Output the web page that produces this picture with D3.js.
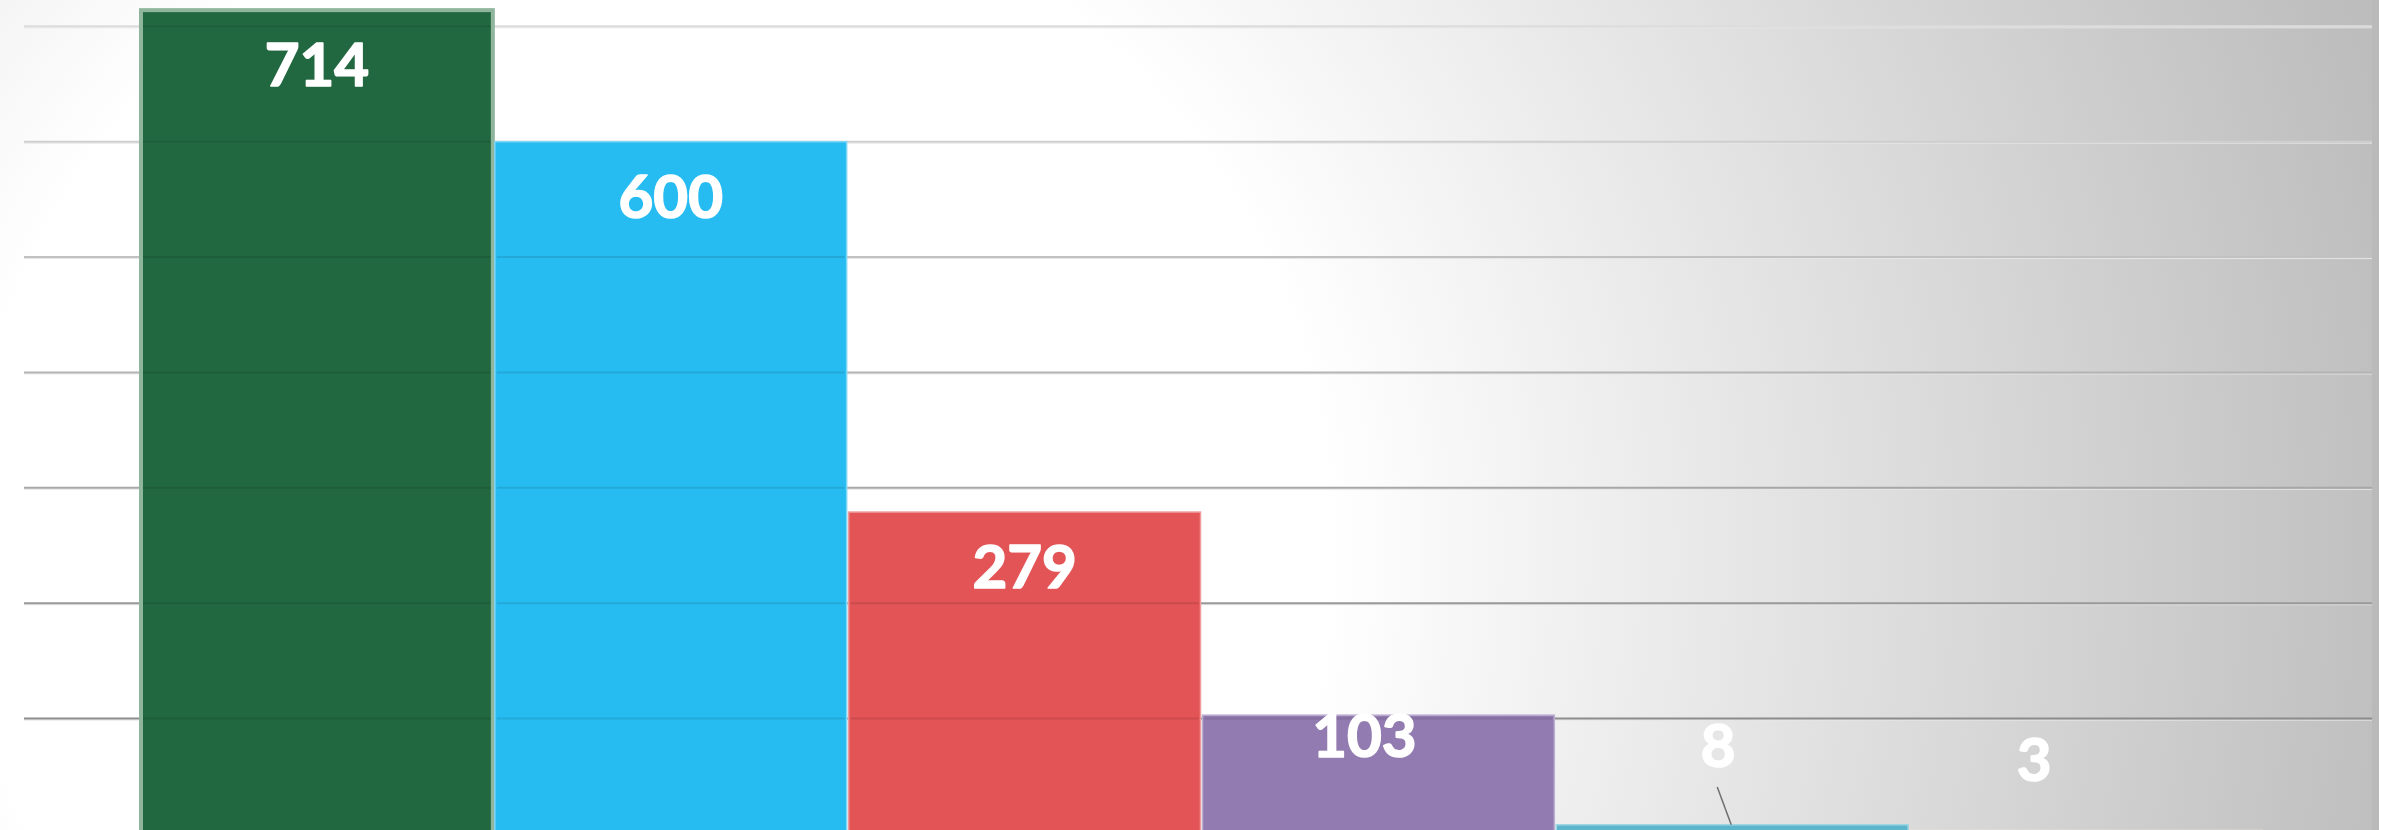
<!DOCTYPE html>
<html>
<head>
<meta charset="utf-8">
<script src="https://cdn.jsdelivr.net/npm/d3@7"></script>
<style>
body{margin:0;background:#fff;overflow:hidden}
svg{display:block}
</style>
</head>
<body>
<script>
// data (the category names are not shown in it)
const categories=["c1","c2","c3","c4","c5","c6"]
const values=[714,600,279,103,8,3]
const colors=["#216840","#27bcf1","#e35456","#927bb0","#5cb5cb","#f6d7bf"]
const borders=["#8fb59d","#7fd6f5","#ee9a9b","#bcaed0","#9fd6e4","#fbe9dc"]
const ticks=[100,200,300,400,500,600,700]

const W=2390,H=830
// label nudges where the chart had them moved by hand
const label_dx=[0,0,0,-14,-14,-52]
const label_dy=[76,76,76,42,-58,-50]

const svg=d3.select("body").append("svg")
	.attr("width",W)
	.attr("height",H)

const defs=svg.append("defs")
const bg=defs.append("radialGradient")
	.attr("id","bg")
	.attr("gradientUnits","userSpaceOnUse")
	.attr("cx",650).attr("cy",550).attr("r",1780)
bg.append("stop").attr("offset",0).attr("stop-color","#ffffff")
bg.append("stop").attr("offset",0.38).attr("stop-color","#ffffff")
bg.append("stop").attr("offset",1).attr("stop-color","#bdbdbd")

svg.append("rect")
	.attr("x",0).attr("y",0)
	.attr("width",2379).attr("height",H)
	.attr("fill","url(#bg)")
svg.append("rect")
	.attr("x",2372).attr("y",0)
	.attr("width",7).attr("height",H)
	.attr("fill","#bababa")

const x=d3.scaleBand()
	.domain(categories)
	.range([140,2263])
	.padding(0)
const y=d3.scaleLinear()
	.domain([0,700])
	.range([834,26.3])

const gridcol=d3.scaleLinear()
	.domain([700,100])
	.range(["#dcdcdc","#8c8c8c"])

const grid=svg.append("g")
grid.selectAll("line.shadow").data(ticks).enter().append("line")
	.attr("class","shadow")
	.attr("x1",24).attr("x2",2372)
	.attr("y1",d=>y(d)+1.5).attr("y2",d=>y(d)+1.5)
	.attr("stroke","#e6e6e6")
	.attr("stroke-width",1)
grid.selectAll("line.main").data(ticks).enter().append("line")
	.attr("class","main")
	.attr("x1",24).attr("x2",2372)
	.attr("y1",d=>y(d)).attr("y2",d=>y(d))
	.attr("stroke",d=>gridcol(d))
	.attr("stroke-width",2)

const bars=svg.append("g")
bars.selectAll("rect").data(values).enter().append("rect")
	.attr("x",(d,i)=>x(categories[i])+1)
	.attr("y",d=>y(d))
	.attr("width",x.bandwidth()-2)
	.attr("height",d=>y(0)-y(d))
	.attr("fill",(d,i)=>colors[i])
	.attr("stroke",(d,i)=>borders[i])
	.attr("stroke-width",(d,i)=>i==0?4:1.5)

// gridlines faintly showing through the bars
for(let i=0;i<values.length;++i){
	bars.append("g").selectAll("line").data(ticks.filter(t=>t<values[i])).enter().append("line")
		.attr("x1",x(categories[i])+3)
		.attr("x2",x(categories[i])+x.bandwidth()-3)
		.attr("y1",d=>y(d)).attr("y2",d=>y(d))
		.attr("stroke","#000")
		.attr("stroke-opacity",0.1)
		.attr("stroke-width",2)
}

// leader line of the small "8" label
svg.append("line")
	.attr("x1",x(categories[4])+x.bandwidth()/2-15)
	.attr("y1",787)
	.attr("x2",x(categories[4])+x.bandwidth()/2-1)
	.attr("y2",y(values[4]))
	.attr("stroke","#6f6f6f")
	.attr("stroke-width",1.5)

svg.append("g").selectAll("text").data(values).enter().append("text")
	.text(d=>d)
	.attr("x",(d,i)=>x(categories[i])+x.bandwidth()/2+label_dx[i])
	.attr("y",(d,i)=>y(d)+label_dy[i])
	.attr("text-anchor","middle")
	.attr("font-family","Lato, 'Open Sans', sans-serif")
	.attr("font-weight",700)
	.attr("font-size",60)
	.attr("fill","#ffffff")
	.attr("stroke","#ffffff")
	.attr("stroke-width",1.6)
	.attr("stroke-linejoin","round")
</script>
</body>
</html>
